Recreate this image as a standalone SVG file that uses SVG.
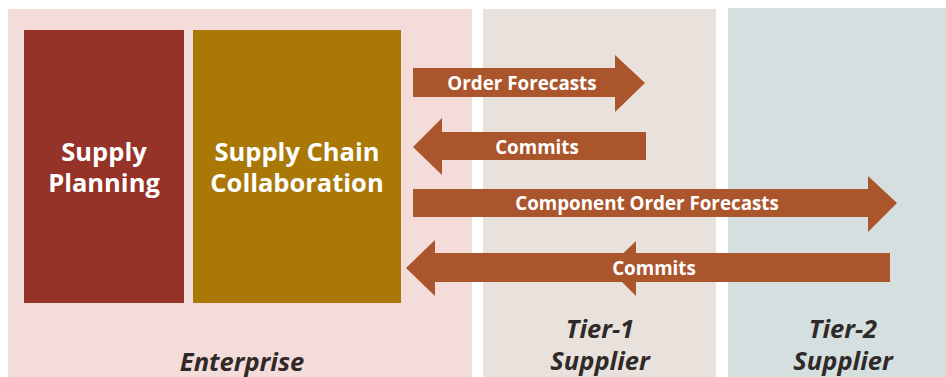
<svg xmlns="http://www.w3.org/2000/svg" width="946" height="377" viewBox="0 0 946 377">
  <style>
    .box-title { font-family: "Open Sans", "Noto Sans", "Liberation Sans", sans-serif; font-weight: 700; font-size: 25.5px; fill: #ffffff; text-anchor: middle; }
    .zone-title { font-family: "Open Sans", "Noto Sans", "Liberation Sans", sans-serif; font-weight: 700; font-style: italic; font-size: 25.5px; fill: #2f2a28; text-anchor: middle; }
    .arrow { fill: #ab552d; }
    .arrow-label { font-family: "Open Sans", "Noto Sans", "Liberation Sans", sans-serif; font-weight: 700; font-size: 18.8px; fill: #ffffff; text-anchor: middle; dominant-baseline: central; }
  </style>
  <rect width="946" height="377" fill="#ffffff"/>
  <g id="zone-enterprise">
    <rect x="8" y="9" width="464" height="368" fill="#f3dcd9"/>
    <text class="zone-title" x="242" y="371">Enterprise</text>
  </g>
  <g id="zone-tier1">
    <rect x="483" y="9" width="233" height="368" fill="#e8e1dc"/>
    <text class="zone-title" x="600" y="338">Tier-1</text>
    <text class="zone-title" x="600" y="370">Supplier</text>
  </g>
  <g id="zone-tier2">
    <rect x="728" y="8" width="218" height="369" fill="#d6dfe0"/>
    <text class="zone-title" x="843" y="338">Tier-2</text>
    <text class="zone-title" x="843" y="370">Supplier</text>
  </g>
  <g id="node-supply-planning">
    <rect x="24" y="30" width="160" height="273" fill="#953328"/>
    <text class="box-title" x="104" y="161">Supply</text>
    <text class="box-title" x="104" y="192">Planning</text>
  </g>
  <g id="node-supply-chain-collaboration">
    <rect x="193" y="30" width="208" height="273" fill="#a97806"/>
    <text class="box-title" x="297" y="161">Supply Chain</text>
    <text class="box-title" x="297" y="192">Collaboration</text>
  </g>
  <g id="connectors">
    <g id="arrow-order-forecasts">
      <polygon class="arrow" points="413,68 615,68 615,55 645,83 615,112 615,97 413,97"/>
      <text class="arrow-label" x="522" y="83">Order Forecasts</text>
    </g>
    <g id="arrow-commits-1">
      <polygon class="arrow" points="646,132 442,132 442,118 413,147 442,175 442,160 646,160"/>
      <text class="arrow-label" x="537" y="147">Commits</text>
    </g>
    <g id="arrow-component-order-forecasts">
      <polygon class="arrow" points="413,189 868,189 868,176 897,203 868,232 868,217 413,217"/>
      <text class="arrow-label" x="647" y="203">Component Order Forecasts</text>
    </g>
    <g id="arrow-commits-2">
      <polygon class="arrow" points="890,253 435,253 435,240 406,268 435,296 435,282 890,282"/>
      <polygon class="arrow" points="636,241 608,268 636,296"/>
      <text class="arrow-label" x="654" y="268">Commits</text>
    </g>
  </g>
</svg>
